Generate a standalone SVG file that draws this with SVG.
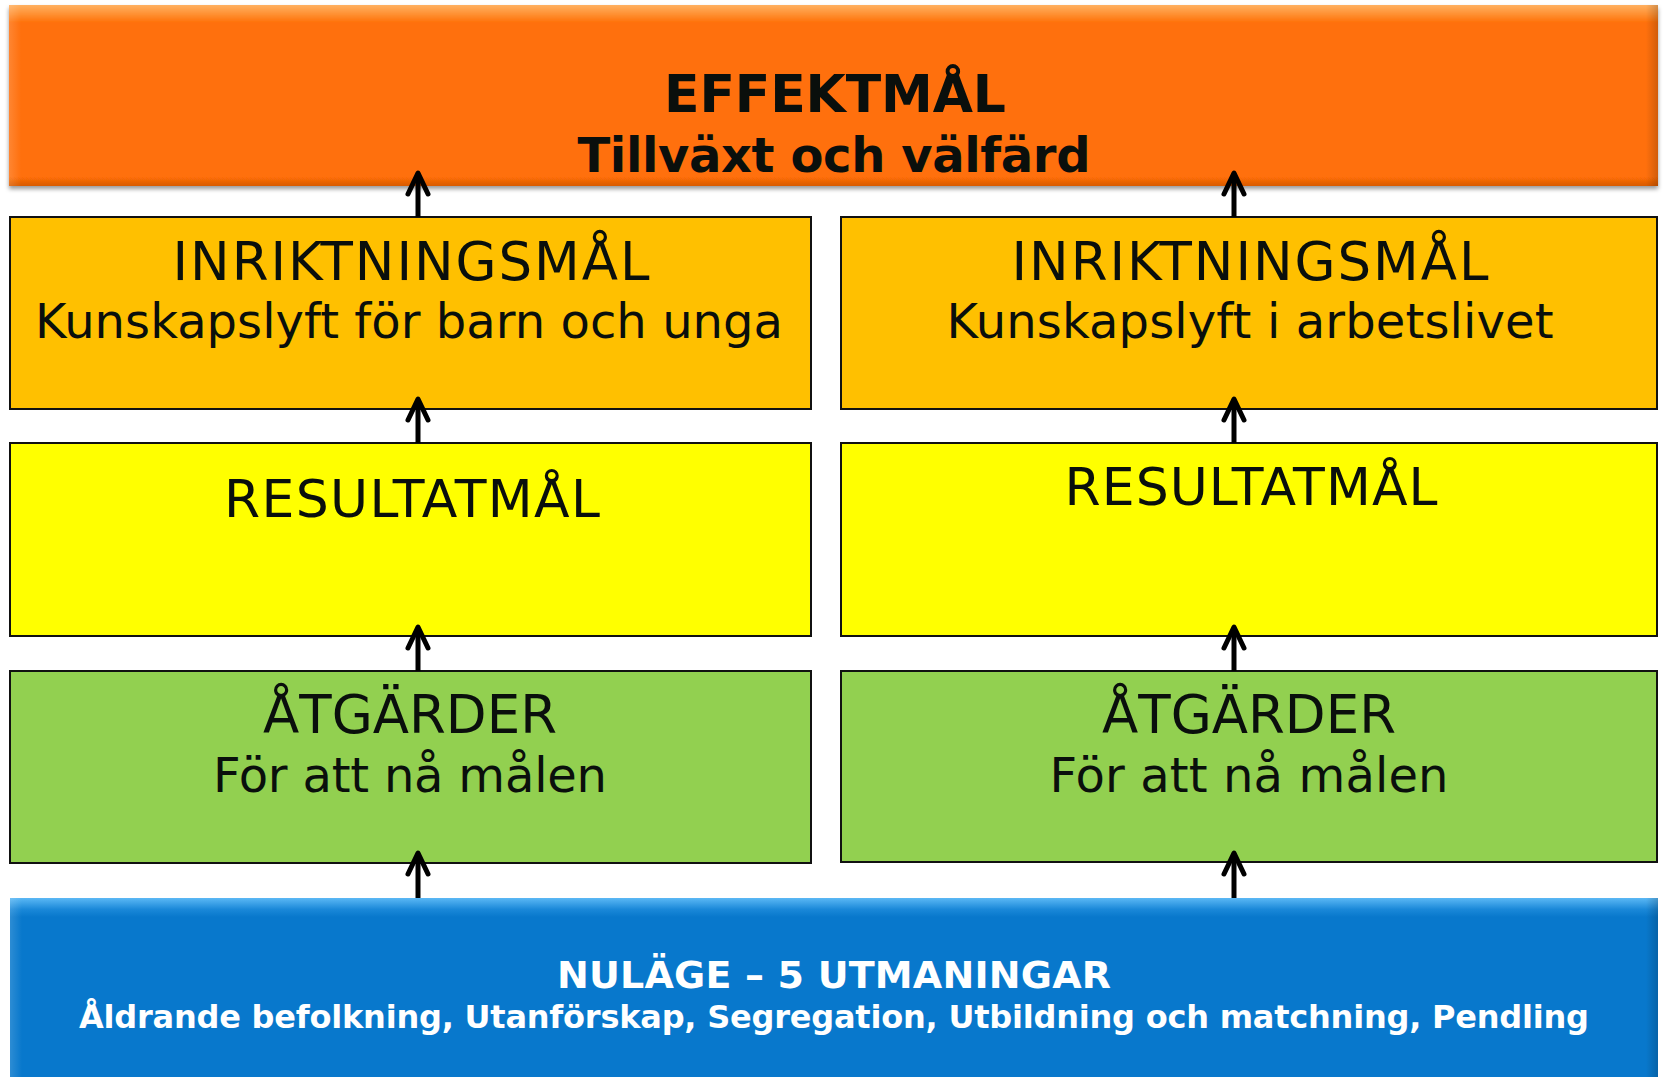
<svg xmlns="http://www.w3.org/2000/svg" width="1665" height="1077" viewBox="0 0 1665 1077">
  <defs>
    <linearGradient id="orangeV" x1="0" y1="0" x2="0" y2="1">
      <stop offset="0" stop-color="#FFB060"/>
      <stop offset="0.06" stop-color="#FF8A2A"/>
      <stop offset="0.1" stop-color="#FF6F07"/>
      <stop offset="0.95" stop-color="#FF6F07"/>
      <stop offset="1" stop-color="#D85A05"/>
    </linearGradient>
    <linearGradient id="blueV" x1="0" y1="0" x2="0" y2="1">
      <stop offset="0" stop-color="#5BB8F5"/>
      <stop offset="0.06" stop-color="#1A88D8"/>
      <stop offset="0.1" stop-color="#0878CC"/>
      <stop offset="1" stop-color="#0878CC"/>
    </linearGradient>
    <linearGradient id="edgeR" x1="0" y1="0" x2="1" y2="0">
      <stop offset="0" stop-color="#000" stop-opacity="0"/>
      <stop offset="1" stop-color="#000" stop-opacity="0.18"/>
    </linearGradient>
    <linearGradient id="edgeL" x1="0" y1="0" x2="1" y2="0">
      <stop offset="0" stop-color="#fff" stop-opacity="0.15"/>
      <stop offset="1" stop-color="#fff" stop-opacity="0"/>
    </linearGradient>
    <filter id="shadow" x="-5%" y="-10%" width="110%" height="130%">
      <feDropShadow dx="0" dy="3" stdDeviation="2" flood-color="#000" flood-opacity="0.4"/>
    </filter>
    <marker id="head" markerUnits="userSpaceOnUse" viewBox="-25 -15 32 30" refX="0" refY="0" markerWidth="32" markerHeight="30" orient="auto">
      <path d="M -19 -10 L 2 0 L -19 10" fill="none" stroke="#000" stroke-width="5" stroke-linecap="round" stroke-linejoin="round"/>
    </marker>
    <style>
      .box { stroke: #111; stroke-width: 2; }
      .t { font-family: "DejaVu Sans", Verdana, sans-serif; fill: #0a0f0c; text-anchor: middle; }
      .b { font-weight: bold; }
      .w { fill: #ffffff; }
      .conn { stroke: #000; stroke-width: 5; fill: none; marker-end: url(#head); }
    </style>
  </defs>

  <rect width="1665" height="1077" fill="#ffffff"/>

  <g id="effektmal">
    <rect x="9" y="5" width="1649" height="181" fill="url(#orangeV)" filter="url(#shadow)"/>
    <rect x="9" y="5" width="12" height="181" fill="url(#edgeL)"/>
    <rect x="1646" y="5" width="12" height="181" fill="url(#edgeR)"/>
    <text class="t b" x="835" y="112" font-size="52" textLength="342">EFFEKTMÅL</text>
    <text class="t b" x="834" y="172" font-size="48" textLength="513">Tillväxt och välfärd</text>
  </g>

  <g id="inriktning-left">
    <rect class="box" x="10" y="217" width="801" height="192" fill="#FFC000"/>
    <text class="t" x="411" y="280" font-size="53" textLength="477">INRIKTNINGSMÅL</text>
    <text class="t" x="409" y="338" font-size="48" textLength="748">Kunskapslyft för barn och unga</text>
  </g>

  <g id="inriktning-right">
    <rect class="box" x="841" y="217" width="816" height="192" fill="#FFC000"/>
    <text class="t" x="1250" y="280" font-size="53" textLength="477">INRIKTNINGSMÅL</text>
    <text class="t" x="1250" y="338" font-size="48" textLength="607">Kunskapslyft i arbetslivet</text>
  </g>

  <g id="resultat-left">
    <rect class="box" x="10" y="443" width="801" height="193" fill="#FFFF00"/>
    <text class="t" x="412" y="517" font-size="52" textLength="376">RESULTATMÅL</text>
  </g>

  <g id="resultat-right">
    <rect class="box" x="841" y="443" width="816" height="193" fill="#FFFF00"/>
    <text class="t" x="1251" y="505" font-size="52" textLength="373">RESULTATMÅL</text>
  </g>

  <g id="atgarder-left">
    <rect class="box" x="10" y="671" width="801" height="192" fill="#92D050"/>
    <text class="t" x="410" y="733" font-size="53" textLength="294">ÅTGÄRDER</text>
    <text class="t" x="410" y="792" font-size="48" textLength="394">För att nå målen</text>
  </g>

  <g id="atgarder-right">
    <rect class="box" x="841" y="671" width="816" height="191" fill="#92D050"/>
    <text class="t" x="1249" y="733" font-size="53" textLength="294">ÅTGÄRDER</text>
    <text class="t" x="1249" y="792" font-size="48" textLength="399">För att nå målen</text>
  </g>

  <g id="nulage">
    <rect x="10" y="898" width="1648" height="190" fill="url(#blueV)"/>
    <rect x="10" y="898" width="12" height="190" fill="url(#edgeL)"/>
    <rect x="1646" y="898" width="12" height="190" fill="url(#edgeR)"/>
    <text class="t b w" x="834" y="988" font-size="38" textLength="554">NULÄGE – 5 UTMANINGAR</text>
    <text class="t b w" x="834" y="1028" font-size="32" textLength="1510">Åldrande befolkning, Utanförskap, Segregation, Utbildning och matchning, Pendling</text>
  </g>

  <g id="connectors">
    <path class="conn" d="M 418 217 L 418 175"/>
    <path class="conn" d="M 418 443 L 418 401"/>
    <path class="conn" d="M 418 671 L 418 629"/>
    <path class="conn" d="M 418 898 L 418 855"/>
    <path class="conn" d="M 1234 217 L 1234 175"/>
    <path class="conn" d="M 1234 443 L 1234 401"/>
    <path class="conn" d="M 1234 671 L 1234 629"/>
    <path class="conn" d="M 1234 898 L 1234 855"/>
  </g>
</svg>
